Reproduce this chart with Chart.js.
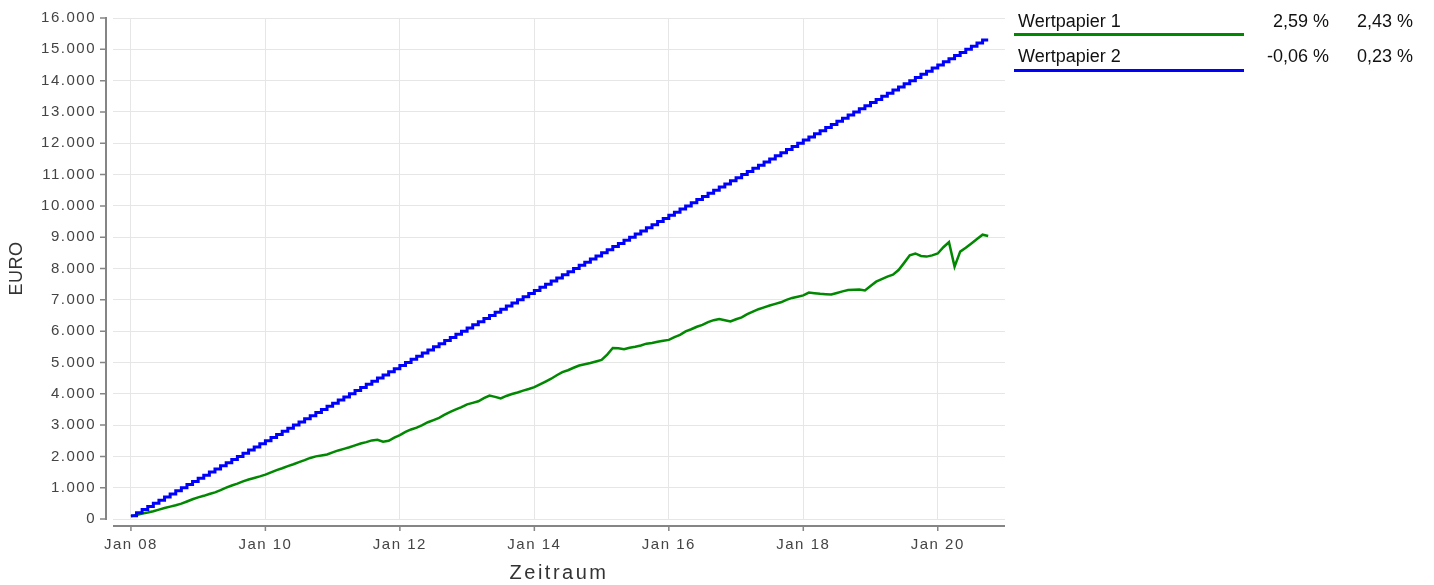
<!DOCTYPE html>
<html>
<head>
<meta charset="utf-8">
<script src="https://cdn.jsdelivr.net/npm/chart.js@4.4.1/dist/chart.umd.min.js"></script>
<style>
  body { margin: 0; background: #fff; font-family: "Liberation Sans", Arial, sans-serif; }
  #wrap { position: relative; width: 1434px; height: 585px; }
  #wrap canvas { position: absolute; left: 0; top: 0; }
  .lg { position: absolute; font-size: 18px; line-height: 20px; color: #111; white-space: nowrap; }
  .num { text-align: right; width: 100px; }
  .bar { position: absolute; left: 1014px; width: 230px; height: 3px; }
</style>
</head>
<body>
<div id="wrap">
  <canvas id="chart"></canvas>
  <div class="lg" style="left:1018px; top:11px;">Wertpapier 1</div>
  <div class="lg num" style="left:1229px; top:11px;">2,59 %</div>
  <div class="lg num" style="left:1313px; top:11px;">2,43 %</div>
  <div class="bar" style="top:33px; background:#008800;"></div>
  <div class="lg" style="left:1018px; top:46px;">Wertpapier 2</div>
  <div class="lg num" style="left:1229px; top:46px;">-0,06 %</div>
  <div class="lg num" style="left:1313px; top:46px;">0,23 %</div>
  <div class="bar" style="top:69px; background:#0000ff;"></div>
</div>
<script>
// Monatswerte ab Jan 2008 (Index = Monat)
const wertpapier1 = [
  85, 130, 175, 210, 250, 300, 350, 395, 440, 490, 560, 630,
  690, 740, 800, 850, 920, 1000, 1070, 1130, 1200, 1260, 1310, 1360,
  1415, 1490, 1560, 1620, 1690, 1750, 1815, 1880, 1950, 2000, 2030, 2060,
  2130, 2190, 2240, 2290, 2350, 2410, 2455, 2510, 2530, 2470, 2500, 2600,
  2680, 2780, 2860, 2920, 3000, 3090, 3160, 3230, 3330, 3420, 3500, 3570,
  3660, 3710, 3760, 3860, 3940, 3900, 3850, 3930, 3990, 4040, 4100, 4150,
  4210, 4300, 4390, 4480, 4590, 4690, 4750, 4830, 4900, 4940, 4980, 5030,
  5080, 5250, 5460, 5450, 5420, 5470, 5500, 5540, 5600, 5620, 5660, 5690,
  5720, 5810, 5880, 5990, 6060, 6140, 6200, 6290, 6350, 6390, 6350, 6310,
  6380, 6440, 6540, 6620, 6700, 6760, 6820, 6870, 6920, 7000, 7060, 7100,
  7140, 7230, 7210, 7190, 7180, 7170, 7220, 7270, 7310, 7320, 7330, 7300,
  7440, 7580, 7660, 7740, 7800, 7950, 8180, 8420, 8480, 8400, 8380, 8420,
  8480, 8680, 8840, 8060, 8540, 8660, 8800, 8940, 9080, 9040
];

const wertpapier2 = [
  100, 200, 300, 400, 500, 600, 700, 800, 900, 1000, 1100, 1200,
  1300, 1400, 1500, 1600, 1700, 1800, 1900, 2000, 2100, 2200, 2300, 2400,
  2500, 2600, 2700, 2800, 2900, 3000, 3100, 3200, 3300, 3400, 3500, 3600,
  3700, 3800, 3900, 4000, 4100, 4200, 4300, 4400, 4500, 4600, 4700, 4800,
  4900, 5000, 5100, 5200, 5300, 5400, 5500, 5600, 5700, 5800, 5900, 6000,
  6100, 6200, 6300, 6400, 6500, 6600, 6700, 6800, 6900, 7000, 7100, 7200,
  7300, 7400, 7500, 7600, 7700, 7800, 7900, 8000, 8100, 8200, 8300, 8400,
  8500, 8600, 8700, 8800, 8900, 9000, 9100, 9200, 9300, 9400, 9500, 9600,
  9700, 9800, 9900, 10000, 10100, 10200, 10300, 10400, 10500, 10600, 10700, 10800,
  10900, 11000, 11100, 11200, 11300, 11400, 11500, 11600, 11700, 11800, 11900, 12000,
  12100, 12200, 12300, 12400, 12500, 12600, 12700, 12800, 12900, 13000, 13100, 13200,
  13300, 13400, 13500, 13600, 13700, 13800, 13900, 14000, 14100, 14200, 14300, 14400,
  14500, 14600, 14700, 14800, 14900, 15000, 15100, 15200, 15300, 15300
];

const tickMonate = [0, 24, 48, 72, 96, 120, 144];
const tickLabels = ['Jan 08', 'Jan 10', 'Jan 12', 'Jan 14', 'Jan 16', 'Jan 18', 'Jan 20'];

const GRUEN = '#008800';
const BLAU = '#0000ff';

function zuPunkten(werte) {
  return werte.map((v, i) => ({ x: i, y: v }));
}

function formatEuro(v) {
  return String(v).replace(/\B(?=(\d{3})+(?!\d))/g, '.');
}

// Achsenlinien sitzen etwas abgesetzt vom Plotbereich
const achsenPlugin = {
  id: 'achsen',
  beforeDraw(chart) {
    chart.ctx.letterSpacing = '1.5px';
    const xs = chart.scales.x;
    if (!xs._titelGepatcht) {
      const orig = xs.drawTitle;
      xs.drawTitle = function () {
        chart.ctx.letterSpacing = '2.5px';
        orig.apply(this, arguments);
        chart.ctx.letterSpacing = '1.5px';
      };
      xs._titelGepatcht = true;
    }
    const ys = chart.scales.y;
    if (!ys._titelGepatcht) {
      const orig = ys.drawTitle;
      ys.drawTitle = function () {
        chart.ctx.letterSpacing = '0.5px';
        orig.apply(this, arguments);
        chart.ctx.letterSpacing = '1.5px';
      };
      ys._titelGepatcht = true;
    }
  },
  afterDraw(chart) {
    const { ctx, chartArea: a, scales: { x, y } } = chart;
    ctx.save();
    ctx.strokeStyle = '#858585';
    ctx.lineWidth = 2;
    ctx.beginPath();
    ctx.moveTo(a.left - 7, a.top - 1);
    ctx.lineTo(a.left - 7, a.bottom + 1);
    ctx.moveTo(a.left, a.bottom + 7);
    ctx.lineTo(a.right, a.bottom + 7);
    ctx.stroke();
    ctx.lineWidth = 1.5;
    ctx.beginPath();
    y.ticks.forEach(t => {
      const py = y.getPixelForValue(t.value);
      ctx.moveTo(a.left - 13, py);
      ctx.lineTo(a.left - 7, py);
    });
    x.ticks.forEach(t => {
      const px = x.getPixelForValue(t.value);
      ctx.moveTo(px, a.bottom + 7);
      ctx.lineTo(px, a.bottom + 12);
    });
    ctx.stroke();
    ctx.restore();
  }
};

new Chart(document.getElementById('chart'), {
  type: 'line',
  data: {
    datasets: [
      {
        label: 'Wertpapier 2',
        data: zuPunkten(wertpapier2),
        borderColor: BLAU,
        borderWidth: 3,
        stepped: 'before',
        pointRadius: 0,
        fill: false
      },
      {
        label: 'Wertpapier 1',
        data: zuPunkten(wertpapier1),
        borderColor: GRUEN,
        borderWidth: 2.5,
        tension: 0,
        pointRadius: 0,
        fill: false
      }
    ]
  },
  options: {
    responsive: true,
    maintainAspectRatio: false,
    animation: false,
    layout: { autoPadding: false, padding: { top: 18, right: 429, left: 0, bottom: 0 } },
    plugins: {
      legend: { display: false },
      tooltip: { enabled: false }
    },
    scales: {
      x: {
        type: 'linear',
        min: -3.2,
        max: 156,
        afterBuildTicks: s => { s.ticks = tickMonate.map(v => ({ value: v })); },
        afterFit: s => { s.height = 66; s.paddingLeft = 0; s.paddingRight = 0; },
        border: { display: false },
        grid: { color: '#e6e6e6', lineWidth: 1, drawTicks: false },
        ticks: {
          padding: 17,
          color: '#444',
          font: { family: '"Liberation Sans", Arial, sans-serif', size: 15 },
          maxRotation: 0,
          callback: v => tickLabels[tickMonate.indexOf(v)]
        },
        title: {
          display: true,
          text: 'Zeitraum',
          color: '#333',
          font: { family: '"Liberation Sans", Arial, sans-serif', size: 20 },
          padding: { top: 0, bottom: 0 }
        }
      },
      y: {
        min: 0,
        max: 16000,
        afterFit: s => { s.width = 113; s.paddingTop = 0; s.paddingBottom = 0; },
        border: { display: false },
        grid: { color: '#e6e6e6', lineWidth: 1, drawTicks: false },
        ticks: {
          stepSize: 1000,
          padding: 17,
          color: '#444',
          font: { family: '"Liberation Sans", Arial, sans-serif', size: 15 },
          callback: v => formatEuro(v)
        },
        title: {
          display: true,
          text: 'EURO',
          color: '#333',
          font: { family: '"Liberation Sans", Arial, sans-serif', size: 18 },
          padding: { top: 6, bottom: 0 }
        }
      }
    }
  },
  plugins: [achsenPlugin]
});
</script>
</body>
</html>
